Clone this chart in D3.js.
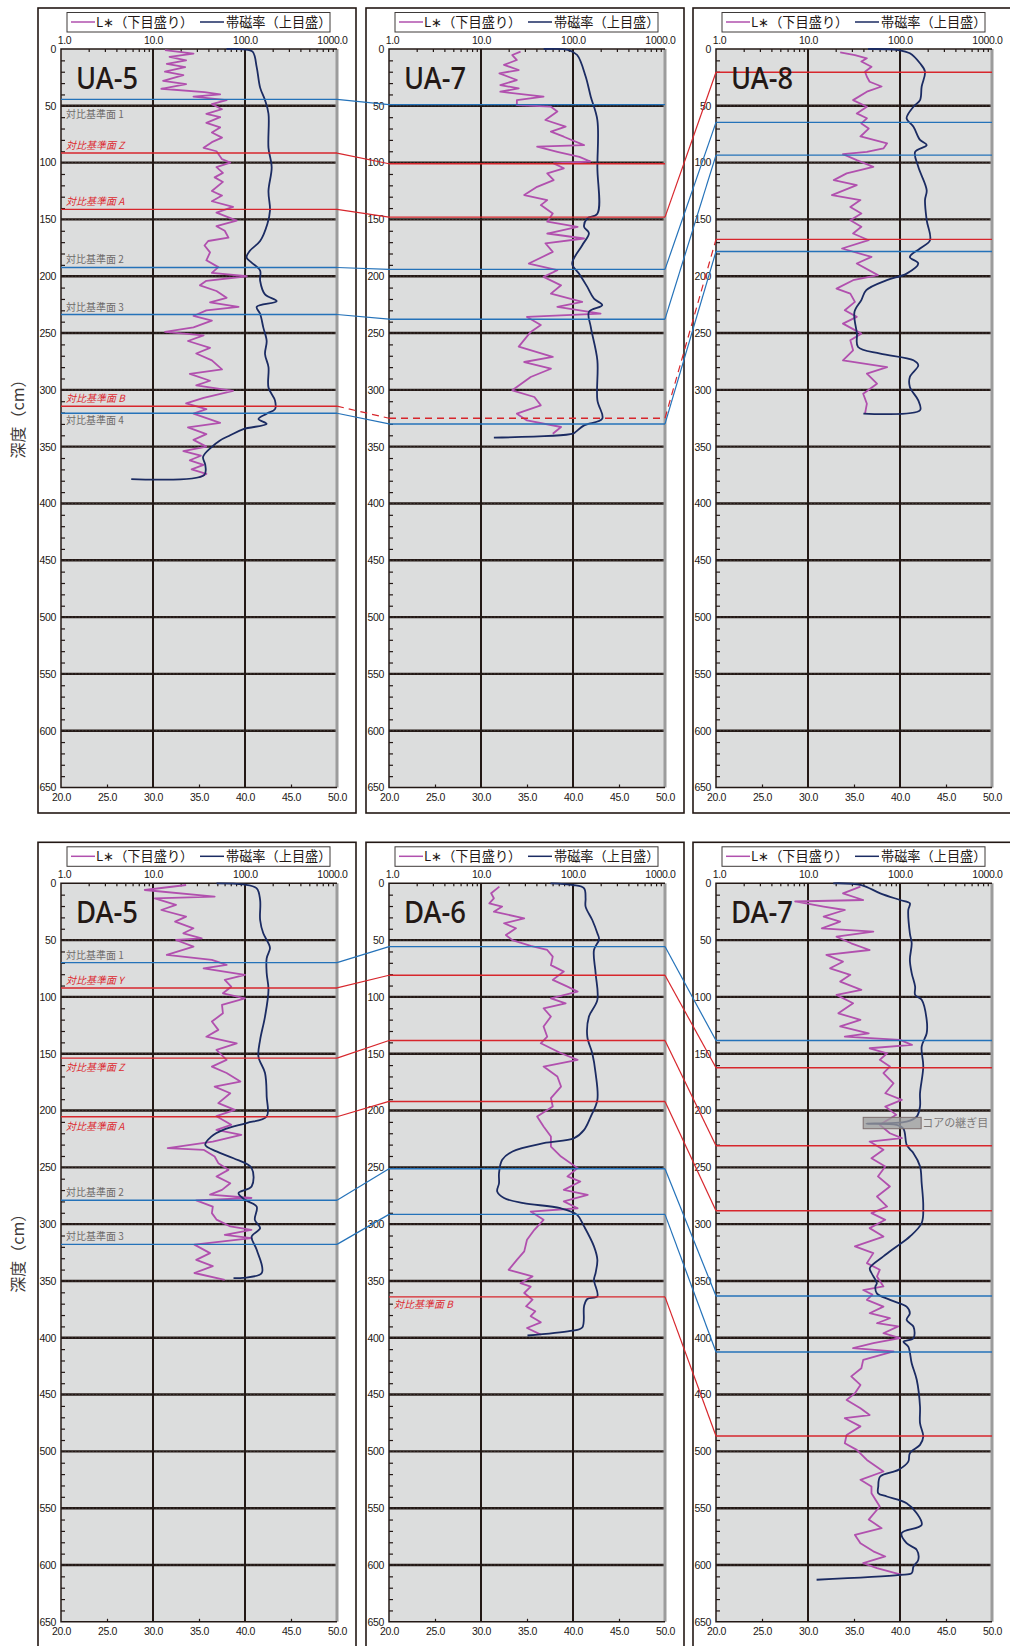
<!DOCTYPE html>
<html>
<head>
<meta charset="utf-8">
<script src="https://cdn.jsdelivr.net/npm/d3@7"></script>
<style>
body { margin: 0; background: #fff; }
</style>
</head>
<body>
<svg id="chart" width="1010" height="1646"></svg>
<script>

// [depth cm, L*]  and  [depth cm, susceptibility]
var ua5L = [[1,31.3],[4,34.4],[7,31.8],[10,33.6],[13,31.5],[16,33.5],[20,31.3],[23,33.3],[28,31.1],[31,33.6],[35,30.9],[38,35.6],[40,37.3],[42,34.4],[45,38],[48.5,36.4],[53,37.5],[57,35.8],[60,37.3],[65,35.8],[69,37.3],[73.5,36.4],[78,37.5],[82,36.4],[87,35.5],[90,36.9],[97,37.5],[100,38.4],[104,36.9],[109,37.6],[113,36.7],[117,37.6],[125,36.4],[129,37.5],[134,36.4],[139,38.7],[144,36.9],[151,39.1],[156,36.9],[160,37.8],[166,38.2],[169,36],[173,35.6],[179,36.2],[186,35.8],[192,37.1],[197,36.4],[200,40.2],[204,35.8],[208,35.1],[213,36.9],[219,38],[223,36.2],[227,39.3],[230,35.8],[235,34.4],[239,36.4],[245,34.4],[249,31.3],[252,35.5],[257,33.8],[263,36.2],[268,34.7],[274,36.4],[282,37.5],[286,34],[292,36.2],[296,34.7],[301,38.7],[307,35.5],[312,33.6],[317,35.8],[321,34.4],[329,37.3],[333,33.8],[339,35.8],[344,34.4],[350,35.8],[354,33.3],[358,35.2],[362,34],[366,35.5],[370,34.2],[374,35.8],[377,35]];
var ua5K = [[0,63],[0.3,96],[2.4,121],[16,134],[34,146],[45,165],[57,180],[87,180],[104,195],[125,180],[142,187],[154,175],[169,146],[177.6,113],[183.5,104],[188,118],[195,146],[204,146],[216,165],[222,221],[227,134],[233,146],[245,158],[257,172],[268.5,165],[280,180],[298,180],[309.5,212],[317,212],[321,172],[325.7,140],[330,172],[334.5,96],[340,69],[344.7,53],[350.6,43],[359,35],[366,37],[375,36],[378.5,5.8]];

var ua7L = [[2.3,34.3],[5.3,33.4],[9.7,33.9],[14,32.5],[18.5,34.1],[21.4,32],[27.3,33.9],[31.7,32.1],[34.7,34.1],[37.6,32.1],[42,36.8],[45,33.9],[49.3,33.9],[50.8,37.6],[55,38.3],[62.5,37],[68.4,39.2],[72.8,37.6],[77.2,39],[84.6,41.2],[86,36.1],[90.5,38.3],[95,40.7],[99,41.9],[100.7,37.9],[105,39],[109.5,37.2],[115.4,37.9],[121.3,36.1],[128.6,34.7],[133,37.2],[137.4,36.5],[144.8,37.8],[152,37.2],[156.5,40.5],[162.4,37.2],[166.8,41.2],[171,37],[178.6,37.8],[188.8,35.2],[194.7,38.3],[200.6,36.8],[208,38.7],[215.3,37.6],[222.6,41],[227,38.3],[233,43],[235.8,35],[243,36.5],[249,35.4],[262,34.1],[271,37.8],[275.5,34.7],[281.4,37.6],[288.7,35.4],[300.4,33.4],[306.3,35.8],[313.6,36.5],[321,33.9],[326.9,35],[332.7,38.7],[338.6,37.8]];
var ua7K = [[0,48],[0.9,90],[5.3,111],[24,137],[42,156],[62.5,184],[104,184],[145,184],[149,143],[156.5,132],[162,149],[172.7,126],[189,98],[197.7,116],[209.4,143],[219.7,169],[225.5,208],[231.4,149],[244.6,156],[274,184],[309,184],[325.4,208],[331.3,132],[337,107],[338.6,100],[342,13.8]];

var ua8L = [[3,33.5],[5.3,35.1],[8.2,36.4],[11,35.8],[15.6,36.9],[20,36.2],[24.4,36.4],[28.8,36.7],[33,38],[37.6,36.4],[45,34.9],[50.8,36.4],[56.7,35.3],[61,36.4],[65.5,35.8],[70,36.6],[77,35.7],[83,38.6],[87.5,38.2],[90.5,36.4],[92.5,33.8],[97.8,35.3],[103.7,37.1],[109.5,34.2],[115.4,32.8],[119.8,35.3],[128.6,32.6],[133,35.7],[139,34.6],[144.8,35.8],[150.7,34.6],[156.5,35.8],[162.4,34.9],[168.3,36.6],[175.6,33.7],[183,36.9],[188.8,35.3],[199,37.6],[203.5,34.9],[210.9,33.1],[215.3,34.6],[222.6,35.1],[230,34],[235.8,35.3],[241.7,33.8],[250.5,35.8],[256.4,34.6],[265.2,34.9],[274,33.8],[280,38.6],[285.8,36.4],[294.6,37.5],[303.4,36],[312.2,36.4],[321,36.2]];
var ua8K = [[0,45],[0.9,96],[3.8,128],[12.6,165],[20,187],[33,172],[45,165],[50.8,140],[61,118],[68.4,140],[80,165],[84.6,195],[90.5,146],[103.7,158],[124.2,195],[133,187],[150.7,195],[168.3,212],[175.6,165],[183,128],[188.8,158],[197.7,118],[203.5,72],[212.3,43],[221,38],[231.4,32],[250.5,34],[262.3,35],[268.1,61],[274,140],[278.4,158],[288.7,128],[297.5,128],[309.3,158],[318,165],[321,40]];

var da5L = [[1.5,33.6],[5.9,29.1],[11.7,36.7],[13.2,30.2],[19,32.5],[23.5,30.9],[29.3,33.6],[33.7,32.4],[39.6,34.4],[44,33.3],[48.4,35.3],[49.9,32.5],[55.7,34.4],[63,31.5],[67.4,36.4],[71.8,38],[74.8,35.5],[80.6,40],[85,37.8],[91,38.5],[96.8,37.6],[101.2,40],[107,37.5],[114.4,37.6],[121.7,36.4],[129,37.1],[135,35.8],[140.8,39.1],[146.6,36.9],[155.4,38],[161.3,36.4],[167,38],[174.5,39.5],[179,36.7],[184.8,38.4],[193.5,37.1],[199.4,38.9],[205,36.9],[212.6,38.5],[217,36.9],[221.4,39.6],[227.3,36.5],[233,31.6],[234.6,35.5],[240.5,36.7],[246.3,37.1],[252.2,38.2],[258,36.9],[264,38.4],[269.8,37.5],[274,36.2],[277,40.7],[279,34.7],[284.5,36.5],[290.3,36.4],[296,36.9],[302,38.4],[305,40.7],[309.4,37.8],[312.3,40.7],[318,34.5],[325.5,36.2],[331.4,34.7],[337,36.5],[343,34.5],[349,37.8]];
var da5K = [[0,49],[1,96],[4.4,134],[14.7,146],[32.3,146],[44,158],[52.8,180],[57.2,187],[66,172],[79,172],[93.8,180],[117.3,165],[137.8,146],[152.5,140],[167,165],[187.7,172],[205.3,172],[211,104],[217,58],[222.9,43],[230.2,37],[236,49],[242,75],[250.7,118],[266.9,118],[272.7,85],[278.6,100],[284.5,134],[296.2,128],[303.5,146],[311,118],[322.6,134],[343,152],[347.5,75]];

var da6L = [[2.9,32],[8.8,31.1],[13.2,31.4],[17.6,30.9],[20.5,32.3],[25,31.4],[30.8,34.7],[35.2,32.5],[39.6,33.8],[45.5,32.7],[50,33.4],[55,35.4],[58.7,37.2],[64.5,37.8],[72,37.6],[77.7,39],[85,37.8],[91,39.4],[95.3,40.5],[101.2,37.6],[105.6,39.2],[110,36.8],[117.3,37.6],[126,36.8],[135,37.2],[140.8,36.5],[149.6,38.7],[155.4,40.5],[161.3,36.8],[170,38.3],[178.9,38.7],[189,37.6],[196.5,37.8],[205.3,36.1],[214,36.8],[222.9,37.6],[231.7,37.6],[240.5,38.7],[250.7,40.5],[258,39.4],[262.5,40.8],[269.8,39],[274.2,41.6],[280,39],[286,40.5],[288.9,35.4],[296.2,36.8],[305,35.8],[313.8,35],[324,34.7],[331.4,33.9],[340.2,33],[346,35.6],[352,34.3],[355,35.4],[360.6,34.7],[366.5,35.6],[372.3,34.9],[376.7,35.9],[381,35.4],[386.4,36.5],[391.4,35],[397.2,36.5]];
var da6K = [[0,57],[1.5,100],[4.4,132],[13.2,137],[20.5,137],[32.3,162],[44,184],[49.3,192],[58.7,169],[79,176],[102.6,184],[117.3,149],[135,143],[149.6,162],[167,176],[190.6,184],[205.3,156],[217,132],[224.3,103],[228.7,48],[236,22],[243.4,17],[255,15.7],[264,15.7],[271.3,15],[277,17.8],[281.5,29],[286,73],[291.8,111],[302,132],[319.6,169],[331.4,184],[343,176],[349,169],[363.5,184],[365.9,143],[372,132],[391,126],[394,94],[398,32]];

var da7L = [[2.9,35.7],[8.8,33.8],[14.7,36],[16,28.6],[20.5,31.7],[23.5,34],[29.3,31.7],[33.7,33.5],[39.6,31.5],[42.5,37.1],[47,33.1],[52.8,34.7],[58.7,36.7],[63,32],[69,33.8],[74.8,32.4],[80.6,34.6],[86.5,33.5],[93.8,35.8],[98.2,33.1],[105.6,34.9],[114.4,33.3],[120.2,35.7],[126,33.5],[132,36.6],[135,34],[137.8,40],[142.2,41.3],[145.2,36.7],[149.6,38.6],[155.4,37.8],[161.3,38.9],[167,38.2],[176,39.3],[184.8,38.4],[190.6,40.2],[196.5,38.4],[203.8,39.6],[212.6,37.8],[220,38.9],[224.3,40.2],[227.3,36.7],[234.6,38.2],[242,36.9],[249.3,38.4],[258,37.6],[266.9,38.9],[275.7,37.5],[284.5,38.6],[290.3,36.9],[296.2,38.4],[303.5,36.7],[310.9,38.2],[319.6,35.1],[325.5,37.1],[334.3,36.4],[340.2,37.8],[346,37.5],[354.8,38.2],[358,36],[362,37],[366.7,36.4],[372.6,38.2],[378.4,36.7],[382.8,38.9],[387.2,37.5],[390,39.8],[396,38.2],[400.4,40],[404.8,37.1],[409.2,34.9],[412,39.3],[419.5,36],[426.8,35.8],[434,34.7],[441.5,35.7],[448.8,35.1],[454.7,34.2],[462,35.7],[468,36.7],[470.8,34],[478,35.7],[485.5,34.2],[492.8,34],[498.7,35.3],[507.5,36.4],[517.7,38.2],[525,35.7],[531,36.9],[536.8,36.9],[548.5,37.8],[560,36.6],[567.6,38],[573.5,35.1],[580.8,35.7],[588,37.1],[592.5,38.4],[598.4,36],[602.8,37.5],[608.7,40.2]];
var da7K = [[0,18.8],[1.5,38],[8.8,61],[14.7,100],[17.6,128],[23.5,123],[44,128],[52.8,134],[67.4,128],[79,134],[91,146],[98.2,146],[102.6,172],[120.2,195],[132,195],[143.7,172],[161.3,179],[184.8,165],[196.5,165],[205.3,152],[209.7,118],[211.5,43],[212.6,92],[216,109],[230,118],[234,128],[237.5,140],[249,165],[264,172],[284.5,179],[299,172],[310.9,128],[319.6,92],[328.4,66],[338.7,47],[343,49],[352,56],[355,54],[360.9,56],[366.7,78],[372.6,118],[378.4,128],[384.3,118],[390.2,140],[400.4,140],[403.4,109],[407.8,123],[422.4,134],[437,152],[460.5,165],[475.2,165],[487,179],[494.3,165],[501.6,128],[509,123],[516.3,96],[522.1,61],[531,58],[536.8,58],[539.7,72],[545.6,118],[554.4,152],[564.7,172],[572,104],[580.8,118],[586.7,152],[595.5,158],[601.4,140],[607.2,134],[608.7,100],[613,12.4]];

// correlation horizons: [depth, kind, label]   kind b = blue, r = red, rd = red uncertain
var ua5Lines = [[44.3,"b","対比基準面 1"],[91.6,"r","対比基準面 Z"],[141.2,"r","対比基準面 A"],[192.3,"b","対比基準面 2"],[233.7,"b","対比基準面 3"],[314.4,"r","対比基準面 B"],[320.6,"b","対比基準面 4"]];
var ua7Lines = [[49,"b"],[101,"r"],[148,"r"],[194,"b"],[237.8,"b"],[325,"rd"],[330,"b"]];
var ua8Lines = [[20.5,"r"],[64.6,"b"],[93.4,"b"],[167.6,"r"],[178.2,"b"]];
var da5Lines = [[69.8,"b","対比基準面 1"],[92.1,"r","対比基準面 Y"],[153.9,"r","対比基準面 Z"],[205.5,"r","対比基準面 A"],[279,"b","対比基準面 2"],[317.8,"b","対比基準面 3"]];
var da6Lines = [[55.7,"b"],[80.9,"r"],[138.4,"r"],[192,"r"],[251.2,"b"],[291.4,"b"],[364,"r","対比基準面 B"]];
var da7Lines = [[138.4,"b"],[162.4,"r"],[231,"r"],[288.2,"r"],[363.2,"b"],[412.5,"b"],[486.4,"r"]];

// links between neighbouring cores: [depth left core, depth right core, kind]
var ua5to7 = [[44.3,49,"b"],[91.6,101,"r"],[141.2,148,"r"],[192.3,194,"b"],[233.7,237.8,"b"],[314.4,325,"rd"],[320.6,330,"b"]];
var ua7to8 = [[148,20.5,"r"],[194,64.6,"b"],[237.8,93.4,"b"],[325,167.6,"rd"],[330,178.2,"b"]];
var da5to6 = [[69.8,55.7,"b"],[92.1,80.9,"r"],[153.9,138.4,"r"],[205.5,192,"r"],[279,251.2,"b"],[317.8,291.4,"b"]];
var da6to7 = [[55.7,138.4,"b"],[80.9,162.4,"r"],[138.4,231,"r"],[192,288.2,"r"],[251.2,363.2,"b"],[291.4,412.5,"b"],[364,486.4,"r"]];

var depthTicks = d3.range(0, 651, 50);
var lTicks = [20, 25, 30, 35, 40, 45, 50];
var kTicks = [1, 10, 100, 1000];
var legendL = "L∗（下目盛り）";
var legendK = "帯磁率（上目盛）";
var yTitle = "深度（cm）";
var jointLabel = "コアの継ぎ目";
var jointBox = {d0: 206, d1: 216, l0: 36, l1: 42.3};   // DA-7

var svg = d3.select("#chart");
var plotW = 276, plotH = 738.5;
var colLeft = [61, 389, 716];
var rowTop = [49, 883.3];
var ink = "#231815";
var lineColor = {b: "#2472b9", r: "#d7262c", rd: "#d7262c"};

var cores = [
  {name: "UA-5", row: 0, col: 0, L: ua5L, K: ua5K, lines: ua5Lines},
  {name: "UA-7", row: 0, col: 1, L: ua7L, K: ua7K, lines: ua7Lines},
  {name: "UA-8", row: 0, col: 2, L: ua8L, K: ua8K, lines: ua8Lines},
  {name: "DA-5", row: 1, col: 0, L: da5L, K: da5K, lines: da5Lines},
  {name: "DA-6", row: 1, col: 1, L: da6L, K: da6K, lines: da6Lines},
  {name: "DA-7", row: 1, col: 2, L: da7L, K: da7K, lines: da7Lines}
];

// label offsets from the horizon line, px
var labelDy = {"UA-5|対比基準面 1": 19, "UA-5|対比基準面 4": 11, "DA-5|対比基準面 Z": 13, "DA-5|対比基準面 A": 13, "DA-6|対比基準面 B": 11};

var minorK = [];
[1, 10, 100].forEach(function (b) { for (var i = 2; i < 10; i++) minorK.push(b * i); });
var minorD = d3.range(10, 650, 10).filter(function (d) { return d % 50 != 0; });

cores.forEach(function (c) {
  var left = colLeft[c.col], top = rowTop[c.row];
  c.y = d3.scaleLinear().domain([0, 650]).range([top, top + plotH]);
  c.xL = d3.scaleLinear().domain([20, 50]).range([left, left + plotW]);
  c.xK = d3.scaleLog().domain([1, 1000]).range([left, left + plotW]);
  c.left = left; c.top = top;
});

function drawPanel(c) {
  var g = svg.append("g");
  var left = c.left, top = c.top, y = c.y;

  g.append("rect").attr("x", left - 23).attr("y", top - 41).attr("width", 318).attr("height", 805)
    .attr("fill", "#fff").attr("stroke", ink).attr("stroke-width", 1.6);

  g.append("rect").attr("x", left).attr("y", top).attr("width", plotW).attr("height", plotH)
    .attr("fill", "#dcdddd");

  // grid
  g.selectAll(".hg").data(depthTicks.slice(1, -1)).enter().append("line")
    .attr("x1", left).attr("x2", left + plotW)
    .attr("y1", function (d) { return y(d); }).attr("y2", function (d) { return y(d); })
    .attr("stroke", ink).attr("stroke-width", 2.4);
  g.selectAll(".hg2").data(depthTicks.slice(1, -1)).enter().append("line")
    .attr("x1", left).attr("x2", left + plotW)
    .attr("y1", function (d) { return y(d); }).attr("y2", function (d) { return y(d); })
    .attr("stroke", "#6f6a68").attr("stroke-width", 0.4).attr("stroke-dasharray", "1.5,2");
  g.selectAll(".vg").data([10, 100]).enter().append("line")
    .attr("x1", function (d) { return c.xK(d); }).attr("x2", function (d) { return c.xK(d); })
    .attr("y1", top).attr("y2", top + plotH)
    .attr("stroke", ink).attr("stroke-width", 2);

  // frame
  g.append("line").attr("x1", left + plotW).attr("x2", left + plotW).attr("y1", top).attr("y2", top + plotH)
    .attr("stroke", "#9c9c9c").attr("stroke-width", 3);
  g.append("path").attr("d", "M" + (left + plotW) + "," + top + "H" + left + "V" + (top + plotH) + "H" + (left + plotW))
    .attr("fill", "none").attr("stroke", ink).attr("stroke-width", 1.5);

  // axes
  var topAx = g.append("g").attr("transform", "translate(0," + top + ")")
    .call(d3.axisTop(c.xK).tickValues(kTicks).tickFormat(d3.format(".1f")).tickSize(0).tickPadding(5));
  topAx.selectAll("text").attr("dx", function (d) { return d == 1 ? 3 : d == 1000 ? -5 : 0; });
  g.append("g").attr("transform", "translate(0," + top + ")")
    .call(d3.axisBottom(c.xK).tickValues(minorK).tickSize(3).tickFormat(""));

  g.append("g").attr("transform", "translate(" + left + ",0)")
    .call(d3.axisLeft(y).tickValues(depthTicks).tickSize(0).tickPadding(5));
  g.append("g").attr("transform", "translate(" + left + ",0)")
    .call(d3.axisRight(y).tickValues(minorD).tickSize(4).tickFormat(""));

  g.append("g").attr("transform", "translate(0," + (top + plotH) + ")")
    .call(d3.axisBottom(c.xL).tickValues(lTicks).tickFormat(d3.format(".1f")).tickSize(0).tickPadding(6));
  g.append("g").attr("transform", "translate(0," + (top + plotH) + ")")
    .call(d3.axisTop(c.xL).tickValues([25, 35, 45]).tickSize(3).tickFormat(""));

  g.selectAll(".domain").remove();
  g.selectAll(".tick line").attr("stroke", ink).attr("stroke-width", 1.2);
  g.selectAll(".tick text").attr("fill", ink).attr("font-family", "'Liberation Sans', Arial, sans-serif")
    .attr("font-size", 10.5).attr("letter-spacing", -0.3);

  // curves
  g.append("path").datum(c.L)
    .attr("d", d3.line().x(function (d) { return c.xL(d[1]); }).y(function (d) { return y(d[0]); }))
    .attr("fill", "none").attr("stroke", "#b150ae").attr("stroke-width", 1.8).attr("stroke-linejoin", "round");
  g.append("path").datum(c.K)
    .attr("d", d3.line().curve(d3.curveCatmullRom.alpha(0.5)).x(function (d) { return c.xK(d[1]); }).y(function (d) { return y(d[0]); }))
    .attr("fill", "none").attr("stroke", "#1b2b62").attr("stroke-width", 1.8);

  // horizons
  c.lines.forEach(function (h) {
    g.append("line").attr("x1", left).attr("x2", left + plotW).attr("y1", y(h[0])).attr("y2", y(h[0]))
      .attr("stroke", lineColor[h[1]]).attr("stroke-width", 1.4)
      .attr("stroke-dasharray", h[1] == "rd" ? "7,5" : null);
    if (h[2]) {
      var red = h[1] != "b";
      var dy = labelDy[c.name + "|" + h[2]];
      g.append("text").attr("x", left + 5).attr("y", y(h[0]) + (dy ? dy : -4))
        .text(h[2]).attr("font-family", "'Noto Sans CJK JP', sans-serif").attr("font-size", 10)
        .attr("fill", red ? "#dc2a30" : "#6e6b6a").attr("font-style", red ? "italic" : null);
    }
  });

  // title
  g.append("text").attr("x", left + 15).attr("y", top + 39.5).text(c.name)
    .attr("font-family", "'Noto Sans', sans-serif").attr("font-weight", 500).attr("font-size", 31)
    .attr("textLength", 62).attr("lengthAdjust", "spacingAndGlyphs").attr("fill", ink);

  // legend
  var ly = top - 27;
  g.append("rect").attr("x", left + 6).attr("y", top - 36.5).attr("width", 263).attr("height", 19.5)
    .attr("fill", "#fff").attr("stroke", "#3e3a39").attr("stroke-width", 1);
  g.append("line").attr("x1", left + 10).attr("x2", left + 34).attr("y1", ly).attr("y2", ly)
    .attr("stroke", "#b150ae").attr("stroke-width", 1.5);
  g.append("text").attr("x", left + 35).attr("y", ly + 5).text(legendL)
    .attr("font-family", "'Noto Sans CJK JP', sans-serif").attr("font-size", 13.2).attr("fill", ink);
  g.append("line").attr("x1", left + 139).attr("x2", left + 163).attr("y1", ly).attr("y2", ly)
    .attr("stroke", "#1b2b62").attr("stroke-width", 1.5);
  g.append("text").attr("x", left + 165).attr("y", ly + 5).text(legendK)
    .attr("font-family", "'Noto Sans CJK JP', sans-serif").attr("font-size", 13.2).attr("fill", ink);
}

cores.forEach(drawPanel);

// core joint note on DA-7
(function () {
  var c = cores[5];
  svg.append("rect").attr("x", c.xL(jointBox.l0)).attr("y", c.y(jointBox.d0))
    .attr("width", c.xL(jointBox.l1) - c.xL(jointBox.l0)).attr("height", c.y(jointBox.d1) - c.y(jointBox.d0))
    .attr("fill", "#9d9d9d").attr("fill-opacity", 0.75).attr("stroke", "#7d6e6e").attr("stroke-width", 1);
  svg.append("text").attr("x", c.xL(jointBox.l1) + 1).attr("y", (c.y(jointBox.d0) + c.y(jointBox.d1)) / 2 + 4)
    .text(jointLabel).attr("font-family", "'Noto Sans CJK JP', sans-serif").attr("font-size", 11).attr("fill", "#7b7878");
})();

// links between cores
function drawLinks(links, a, b) {
  links.forEach(function (k) {
    svg.append("line")
      .attr("x1", a.left + plotW).attr("y1", a.y(k[0]))
      .attr("x2", b.left).attr("y2", b.y(k[1]))
      .attr("stroke", lineColor[k[2]]).attr("stroke-width", 1.2)
      .attr("stroke-dasharray", k[2] == "rd" ? "7,5" : null);
  });
}
drawLinks(ua5to7, cores[0], cores[1]);
drawLinks(ua7to8, cores[1], cores[2]);
drawLinks(da5to6, cores[3], cores[4]);
drawLinks(da6to7, cores[4], cores[5]);

// depth titles
rowTop.forEach(function (t) {
  svg.append("text").attr("transform", "translate(24," + (t + 366) + ") rotate(-90)")
    .attr("text-anchor", "middle").text(yTitle)
    .attr("font-family", "'Noto Sans CJK JP', sans-serif").attr("font-size", 16).attr("fill", "#3e3a39");
});

</script>
</body>
</html>
